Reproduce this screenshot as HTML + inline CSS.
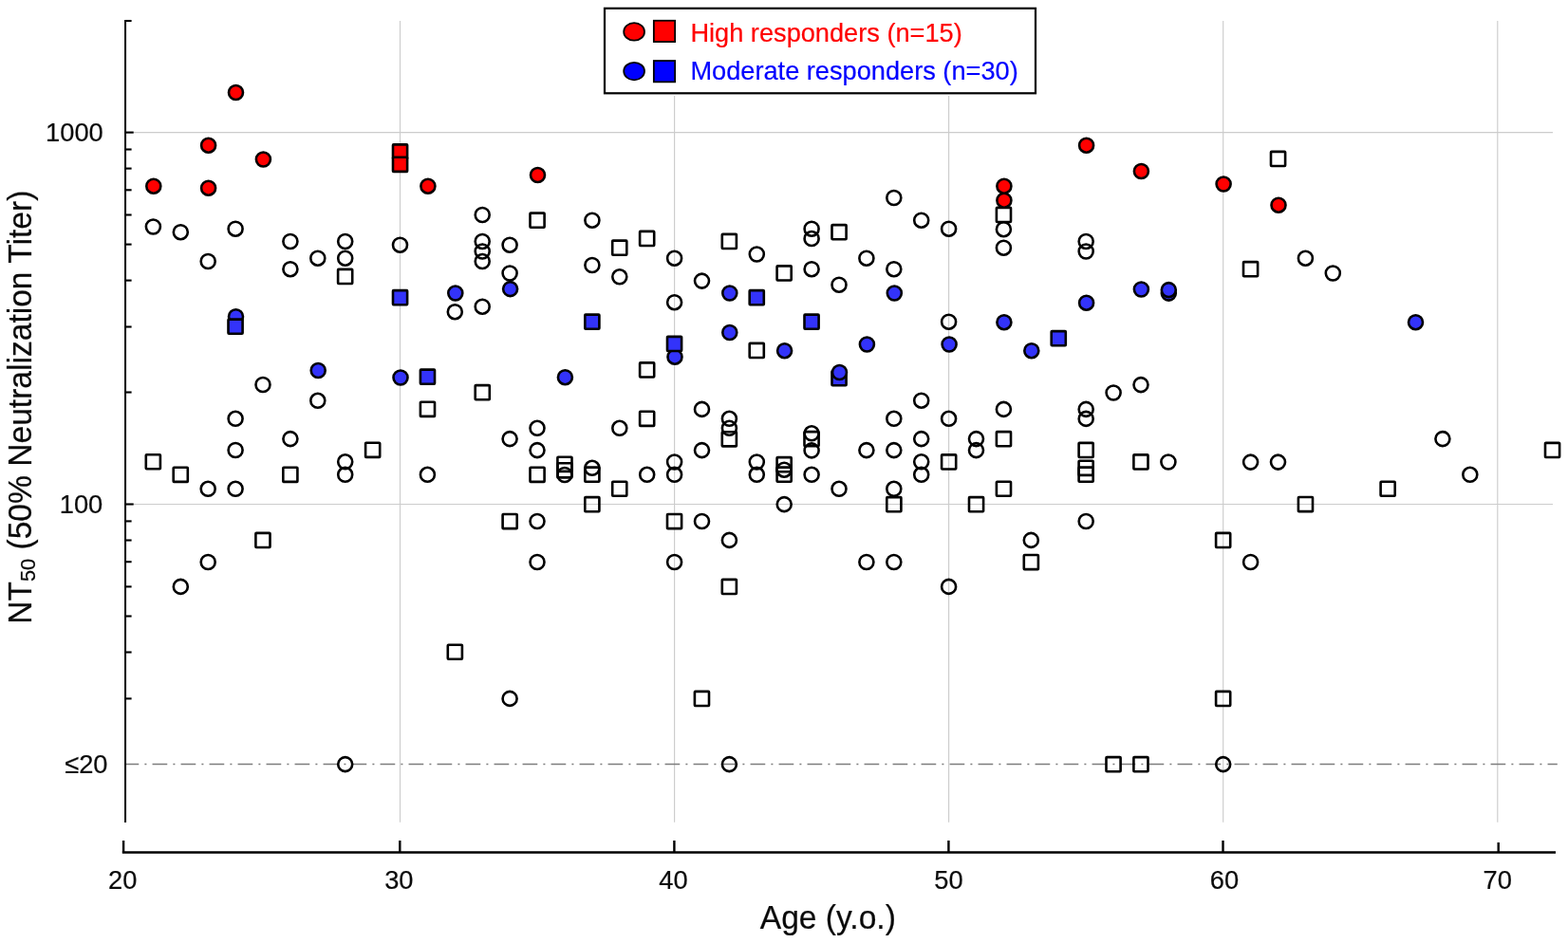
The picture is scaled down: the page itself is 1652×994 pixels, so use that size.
<!DOCTYPE html>
<html><head><meta charset="utf-8"><title>NT50 vs Age</title>
<style>
html,body{margin:0;padding:0;background:#fff;}
body{width:1652px;height:994px;overflow:hidden;}
svg{display:block;}
text{font-family:"Liberation Sans",sans-serif;fill:#0a0a0a;stroke:#0a0a0a;stroke-width:0.2px;}
.tl{font-size:27.3px;}
.ax{font-size:33.6px;}
.lg{font-size:27.2px;}
.g{stroke:#cccccc;stroke-width:1.15;fill:none;}
.o{fill:none;stroke:#000;stroke-width:2.6;stroke-linejoin:round;}
.r{fill:#ff0000;stroke:#000;stroke-width:2.6;stroke-linejoin:round;}
.b{fill:#3333fa;stroke:#000;stroke-width:2.6;stroke-linejoin:round;}
</style></head><body>
<svg width="1652" height="994" viewBox="0 0 1652 994">
<rect width="1652" height="994" fill="#fff"/>

<line class="g" x1="421.5" y1="22.0" x2="421.5" y2="866.8"/>
<line class="g" x1="710.6" y1="101" x2="710.6" y2="866.8"/>
<line class="g" x1="999.6" y1="101" x2="999.6" y2="866.8"/>
<line class="g" x1="1288.7" y1="22.0" x2="1288.7" y2="866.8"/>
<line class="g" x1="1577.8" y1="22.0" x2="1577.8" y2="866.8"/>
<line class="g" x1="132" y1="139.6" x2="1636" y2="139.6"/>
<line class="g" x1="132" y1="531.5" x2="1636" y2="531.5"/>
<line x1="132" y1="805.55" x2="1640.8" y2="805.55" stroke="#7d7d7d" stroke-width="1.5" stroke-dasharray="15.7 6.15 2 6.15" stroke-dashoffset="1.45" fill="none"/>
<line x1="132.05" y1="21.0" x2="132.05" y2="866.9" stroke="#000" stroke-width="2.0"/>
<line x1="132.1" y1="22.0" x2="138.60000000000002" y2="22.0" stroke="#000" stroke-width="2.1"/>
<line x1="132.1" y1="139.6" x2="140.70000000000002" y2="139.6" stroke="#000" stroke-width="2.1"/>
<line x1="132.1" y1="531.5" x2="140.70000000000002" y2="531.5" stroke="#000" stroke-width="2.1"/>
<line x1="132.1" y1="157.5" x2="138.60000000000002" y2="157.5" stroke="#000" stroke-width="2.1"/>
<line x1="132.1" y1="177.6" x2="138.60000000000002" y2="177.6" stroke="#000" stroke-width="2.1"/>
<line x1="132.1" y1="200.3" x2="138.60000000000002" y2="200.3" stroke="#000" stroke-width="2.1"/>
<line x1="132.1" y1="226.5" x2="138.60000000000002" y2="226.5" stroke="#000" stroke-width="2.1"/>
<line x1="132.1" y1="257.6" x2="138.60000000000002" y2="257.6" stroke="#000" stroke-width="2.1"/>
<line x1="132.1" y1="295.6" x2="138.60000000000002" y2="295.6" stroke="#000" stroke-width="2.1"/>
<line x1="132.1" y1="344.5" x2="138.60000000000002" y2="344.5" stroke="#000" stroke-width="2.1"/>
<line x1="132.1" y1="413.5" x2="138.60000000000002" y2="413.5" stroke="#000" stroke-width="2.1"/>
<line x1="132.1" y1="549.4" x2="138.60000000000002" y2="549.4" stroke="#000" stroke-width="2.1"/>
<line x1="132.1" y1="569.5" x2="138.60000000000002" y2="569.5" stroke="#000" stroke-width="2.1"/>
<line x1="132.1" y1="592.2" x2="138.60000000000002" y2="592.2" stroke="#000" stroke-width="2.1"/>
<line x1="132.1" y1="618.4" x2="138.60000000000002" y2="618.4" stroke="#000" stroke-width="2.1"/>
<line x1="132.1" y1="649.5" x2="138.60000000000002" y2="649.5" stroke="#000" stroke-width="2.1"/>
<line x1="132.1" y1="687.5" x2="138.60000000000002" y2="687.5" stroke="#000" stroke-width="2.1"/>
<line x1="132.1" y1="736.4" x2="138.60000000000002" y2="736.4" stroke="#000" stroke-width="2.1"/>
<line x1="128.8" y1="898.55" x2="1639" y2="898.55" stroke="#000" stroke-width="2.6"/>
<line x1="130.1" y1="886" x2="130.1" y2="898.5" stroke="#000" stroke-width="2.4"/>
<text class="tl" transform="translate(144.4,936.9) scale(1,1.04)" text-anchor="end">20</text>
<line x1="421.3" y1="886" x2="421.3" y2="898.5" stroke="#000" stroke-width="2.4"/>
<text class="tl" transform="translate(435.5,936.9) scale(1,1.04)" text-anchor="end">30</text>
<line x1="710.4" y1="886" x2="710.4" y2="898.5" stroke="#000" stroke-width="2.4"/>
<text class="tl" transform="translate(724.7,936.9) scale(1,1.04)" text-anchor="end">40</text>
<line x1="999.4" y1="886" x2="999.4" y2="898.5" stroke="#000" stroke-width="2.4"/>
<text class="tl" transform="translate(1014.6,936.9) scale(1,1.04)" text-anchor="end">50</text>
<line x1="1288.5" y1="886" x2="1288.5" y2="898.5" stroke="#000" stroke-width="2.4"/>
<text class="tl" transform="translate(1305.2,936.9) scale(1,1.04)" text-anchor="end">60</text>
<line x1="1578.7" y1="888" x2="1578.7" y2="898.5" stroke="#000" stroke-width="2.4"/>
<text class="tl" transform="translate(1592.9,936.9) scale(1,1.04)" text-anchor="end">70</text>
<text class="tl" transform="translate(108.8,148.7) scale(1,1.04)" text-anchor="end">1000</text>
<text class="tl" transform="translate(108.3,540.6) scale(1,1.04)" text-anchor="end">100</text>
<text class="tl" transform="translate(113.5,815.3) scale(1,1.04)" text-anchor="end">≤20</text>
<text class="ax" transform="translate(872.3,978.5) scale(1,1.045)" text-anchor="middle">Age (y.o.)</text>
<text class="ax" transform="translate(32.9,657.8) rotate(-90) scale(1,1.04)" x="0" y="0">NT<tspan font-size="21.7" dy="4.3">50</tspan><tspan dy="-4.3"> (50% Neutralization Titer)</tspan></text>
<circle class="o" cx="161.4" cy="239.0" r="7.5"/>
<rect class="o" x="153.8" y="479.2" width="15.1" height="15.1" rx="0.7"/>
<circle class="o" cx="190.3" cy="244.7" r="7.5"/>
<rect class="o" x="182.7" y="492.8" width="15.1" height="15.1" rx="0.7"/>
<circle class="o" cx="190.3" cy="618.4" r="7.5"/>
<circle class="o" cx="219.2" cy="275.5" r="7.5"/>
<circle class="o" cx="219.2" cy="515.3" r="7.5"/>
<circle class="o" cx="219.2" cy="592.5" r="7.5"/>
<circle class="o" cx="248.1" cy="241.2" r="7.5"/>
<circle class="o" cx="248.1" cy="441.3" r="7.5"/>
<circle class="o" cx="248.1" cy="474.5" r="7.5"/>
<circle class="o" cx="248.1" cy="515.3" r="7.5"/>
<circle class="o" cx="277.0" cy="405.5" r="7.5"/>
<rect class="o" x="269.4" y="561.9" width="15.1" height="15.1" rx="0.7"/>
<circle class="o" cx="305.9" cy="254.5" r="7.5"/>
<circle class="o" cx="305.9" cy="283.7" r="7.5"/>
<circle class="o" cx="305.9" cy="462.6" r="7.5"/>
<rect class="o" x="298.3" y="492.8" width="15.1" height="15.1" rx="0.7"/>
<circle class="o" cx="334.8" cy="272.2" r="7.5"/>
<circle class="o" cx="334.8" cy="422.3" r="7.5"/>
<circle class="o" cx="363.7" cy="254.5" r="7.5"/>
<circle class="o" cx="363.7" cy="272.2" r="7.5"/>
<rect class="o" x="356.1" y="283.9" width="15.1" height="15.1" rx="0.7"/>
<circle class="o" cx="363.7" cy="486.8" r="7.5"/>
<circle class="o" cx="363.7" cy="500.3" r="7.5"/>
<circle class="o" cx="363.7" cy="805.6" r="7.5"/>
<rect class="o" x="385.1" y="466.8" width="15.1" height="15.1" rx="0.7"/>
<circle class="o" cx="421.5" cy="258.2" r="7.5"/>
<rect class="o" x="442.9" y="423.8" width="15.1" height="15.1" rx="0.7"/>
<circle class="o" cx="450.4" cy="500.3" r="7.5"/>
<circle class="o" cx="479.3" cy="328.7" r="7.5"/>
<rect class="o" x="471.8" y="679.7" width="15.1" height="15.1" rx="0.7"/>
<circle class="o" cx="508.2" cy="226.5" r="7.5"/>
<circle class="o" cx="508.2" cy="254.5" r="7.5"/>
<circle class="o" cx="508.2" cy="265.0" r="7.5"/>
<circle class="o" cx="508.2" cy="275.5" r="7.5"/>
<circle class="o" cx="508.2" cy="323.2" r="7.5"/>
<rect class="o" x="500.7" y="406.1" width="15.1" height="15.1" rx="0.7"/>
<circle class="o" cx="537.1" cy="258.2" r="7.5"/>
<circle class="o" cx="537.1" cy="288.0" r="7.5"/>
<circle class="o" cx="537.1" cy="462.6" r="7.5"/>
<rect class="o" x="529.6" y="542.0" width="15.1" height="15.1" rx="0.7"/>
<circle class="o" cx="537.1" cy="736.4" r="7.5"/>
<rect class="o" x="558.5" y="224.6" width="15.1" height="15.1" rx="0.7"/>
<circle class="o" cx="566.0" cy="451.3" r="7.5"/>
<circle class="o" cx="566.0" cy="474.6" r="7.5"/>
<rect class="o" x="558.5" y="492.8" width="15.1" height="15.1" rx="0.7"/>
<circle class="o" cx="566.0" cy="549.5" r="7.5"/>
<circle class="o" cx="566.0" cy="592.5" r="7.5"/>
<rect class="o" x="587.4" y="481.8" width="15.1" height="15.1" rx="0.7"/>
<rect class="o" x="587.4" y="488.3" width="15.1" height="15.1" rx="0.7"/>
<circle class="o" cx="594.9" cy="500.5" r="7.5"/>
<circle class="o" cx="623.9" cy="232.2" r="7.5"/>
<circle class="o" cx="623.9" cy="279.5" r="7.5"/>
<circle class="o" cx="623.9" cy="493.3" r="7.5"/>
<rect class="o" x="616.3" y="492.6" width="15.1" height="15.1" rx="0.7"/>
<rect class="o" x="616.3" y="524.1" width="15.1" height="15.1" rx="0.7"/>
<rect class="o" x="645.2" y="253.6" width="15.1" height="15.1" rx="0.7"/>
<circle class="o" cx="652.8" cy="291.8" r="7.5"/>
<circle class="o" cx="652.8" cy="451.3" r="7.5"/>
<rect class="o" x="645.2" y="507.7" width="15.1" height="15.1" rx="0.7"/>
<rect class="o" x="674.1" y="243.9" width="15.1" height="15.1" rx="0.7"/>
<rect class="o" x="674.1" y="382.4" width="15.1" height="15.1" rx="0.7"/>
<rect class="o" x="674.1" y="433.8" width="15.1" height="15.1" rx="0.7"/>
<circle class="o" cx="681.7" cy="500.3" r="7.5"/>
<circle class="o" cx="710.6" cy="272.2" r="7.5"/>
<circle class="o" cx="710.6" cy="318.7" r="7.5"/>
<circle class="o" cx="710.6" cy="487.0" r="7.5"/>
<circle class="o" cx="710.6" cy="500.3" r="7.5"/>
<rect class="o" x="703.0" y="542.0" width="15.1" height="15.1" rx="0.7"/>
<circle class="o" cx="710.6" cy="592.5" r="7.5"/>
<circle class="o" cx="739.5" cy="296.1" r="7.5"/>
<circle class="o" cx="739.5" cy="431.4" r="7.5"/>
<circle class="o" cx="739.5" cy="474.6" r="7.5"/>
<circle class="o" cx="739.5" cy="549.5" r="7.5"/>
<rect class="o" x="731.9" y="728.9" width="15.1" height="15.1" rx="0.7"/>
<rect class="o" x="760.8" y="246.9" width="15.1" height="15.1" rx="0.7"/>
<circle class="o" cx="768.4" cy="441.3" r="7.5"/>
<circle class="o" cx="768.4" cy="451.3" r="7.5"/>
<rect class="o" x="760.8" y="455.3" width="15.1" height="15.1" rx="0.7"/>
<circle class="o" cx="768.4" cy="569.4" r="7.5"/>
<rect class="o" x="760.8" y="610.9" width="15.1" height="15.1" rx="0.7"/>
<circle class="o" cx="768.4" cy="805.6" r="7.5"/>
<circle class="o" cx="797.3" cy="268.0" r="7.5"/>
<rect class="o" x="789.7" y="361.9" width="15.1" height="15.1" rx="0.7"/>
<circle class="o" cx="797.3" cy="487.0" r="7.5"/>
<circle class="o" cx="797.3" cy="500.3" r="7.5"/>
<rect class="o" x="818.6" y="280.4" width="15.1" height="15.1" rx="0.7"/>
<rect class="o" x="818.6" y="482.1" width="15.1" height="15.1" rx="0.7"/>
<circle class="o" cx="826.2" cy="495.2" r="7.5"/>
<rect class="o" x="818.6" y="492.6" width="15.1" height="15.1" rx="0.7"/>
<circle class="o" cx="826.2" cy="531.6" r="7.5"/>
<circle class="o" cx="855.1" cy="241.2" r="7.5"/>
<circle class="o" cx="855.1" cy="251.5" r="7.5"/>
<circle class="o" cx="855.1" cy="283.7" r="7.5"/>
<circle class="o" cx="855.1" cy="456.8" r="7.5"/>
<rect class="o" x="847.5" y="455.1" width="15.1" height="15.1" rx="0.7"/>
<circle class="o" cx="855.1" cy="474.9" r="7.5"/>
<circle class="o" cx="855.1" cy="500.3" r="7.5"/>
<rect class="o" x="876.5" y="237.1" width="15.1" height="15.1" rx="0.7"/>
<circle class="o" cx="884.0" cy="300.2" r="7.5"/>
<circle class="o" cx="884.0" cy="515.3" r="7.5"/>
<circle class="o" cx="912.9" cy="272.2" r="7.5"/>
<circle class="o" cx="912.9" cy="474.6" r="7.5"/>
<circle class="o" cx="912.9" cy="592.5" r="7.5"/>
<circle class="o" cx="941.8" cy="208.5" r="7.5"/>
<circle class="o" cx="941.8" cy="283.7" r="7.5"/>
<circle class="o" cx="941.8" cy="441.3" r="7.5"/>
<circle class="o" cx="941.8" cy="474.6" r="7.5"/>
<circle class="o" cx="941.8" cy="515.3" r="7.5"/>
<rect class="o" x="934.3" y="524.1" width="15.1" height="15.1" rx="0.7"/>
<circle class="o" cx="941.8" cy="592.5" r="7.5"/>
<circle class="o" cx="970.7" cy="232.2" r="7.5"/>
<circle class="o" cx="970.7" cy="422.2" r="7.5"/>
<circle class="o" cx="970.7" cy="462.6" r="7.5"/>
<circle class="o" cx="970.7" cy="486.8" r="7.5"/>
<circle class="o" cx="970.7" cy="500.3" r="7.5"/>
<circle class="o" cx="999.6" cy="241.2" r="7.5"/>
<circle class="o" cx="999.6" cy="339.2" r="7.5"/>
<circle class="o" cx="999.6" cy="441.3" r="7.5"/>
<rect class="o" x="992.1" y="479.4" width="15.1" height="15.1" rx="0.7"/>
<circle class="o" cx="999.6" cy="618.4" r="7.5"/>
<circle class="o" cx="1028.5" cy="462.6" r="7.5"/>
<circle class="o" cx="1028.5" cy="474.6" r="7.5"/>
<rect class="o" x="1021.0" y="524.1" width="15.1" height="15.1" rx="0.7"/>
<rect class="o" x="1049.9" y="218.9" width="15.1" height="15.1" rx="0.7"/>
<circle class="o" cx="1057.4" cy="241.7" r="7.5"/>
<circle class="o" cx="1057.4" cy="261.2" r="7.5"/>
<circle class="o" cx="1057.4" cy="431.4" r="7.5"/>
<rect class="o" x="1049.9" y="455.1" width="15.1" height="15.1" rx="0.7"/>
<rect class="o" x="1049.9" y="507.7" width="15.1" height="15.1" rx="0.7"/>
<circle class="o" cx="1086.3" cy="569.4" r="7.5"/>
<rect class="o" x="1078.8" y="585.0" width="15.1" height="15.1" rx="0.7"/>
<circle class="o" cx="1144.2" cy="254.5" r="7.5"/>
<circle class="o" cx="1144.2" cy="265.0" r="7.5"/>
<circle class="o" cx="1144.2" cy="431.4" r="7.5"/>
<circle class="o" cx="1144.2" cy="441.4" r="7.5"/>
<rect class="o" x="1136.6" y="466.9" width="15.1" height="15.1" rx="0.7"/>
<rect class="o" x="1136.6" y="485.8" width="15.1" height="15.1" rx="0.7"/>
<rect class="o" x="1136.6" y="492.6" width="15.1" height="15.1" rx="0.7"/>
<circle class="o" cx="1144.2" cy="549.5" r="7.5"/>
<circle class="o" cx="1173.1" cy="414.0" r="7.5"/>
<rect class="o" x="1165.5" y="798.1" width="15.1" height="15.1" rx="0.7"/>
<circle class="o" cx="1202.0" cy="405.6" r="7.5"/>
<rect class="o" x="1194.4" y="479.4" width="15.1" height="15.1" rx="0.7"/>
<rect class="o" x="1194.4" y="798.1" width="15.1" height="15.1" rx="0.7"/>
<circle class="o" cx="1230.9" cy="487.0" r="7.5"/>
<rect class="o" x="1281.1" y="561.9" width="15.1" height="15.1" rx="0.7"/>
<rect class="o" x="1281.1" y="728.9" width="15.1" height="15.1" rx="0.7"/>
<circle class="o" cx="1288.7" cy="805.6" r="7.5"/>
<rect class="o" x="1310.0" y="276.1" width="15.1" height="15.1" rx="0.7"/>
<circle class="o" cx="1317.6" cy="487.1" r="7.5"/>
<circle class="o" cx="1317.6" cy="592.5" r="7.5"/>
<rect class="o" x="1339.0" y="159.9" width="15.1" height="15.1" rx="0.7"/>
<circle class="o" cx="1346.5" cy="487.1" r="7.5"/>
<circle class="o" cx="1375.4" cy="272.2" r="7.5"/>
<rect class="o" x="1367.9" y="524.0" width="15.1" height="15.1" rx="0.7"/>
<circle class="o" cx="1404.3" cy="288.0" r="7.5"/>
<rect class="o" x="1454.6" y="507.7" width="15.1" height="15.1" rx="0.7"/>
<circle class="o" cx="1519.9" cy="462.6" r="7.5"/>
<circle class="o" cx="1548.8" cy="500.3" r="7.5"/>
<rect class="o" x="1628.0" y="466.9" width="15.1" height="15.1" rx="0.7"/>
<circle class="r" cx="161.8" cy="196.2" r="7.5"/>
<circle class="r" cx="219.6" cy="153.2" r="7.5"/>
<circle class="r" cx="219.6" cy="198.2" r="7.5"/>
<circle class="r" cx="248.5" cy="97.5" r="7.5"/>
<circle class="b" cx="248.5" cy="333.7" r="7.5"/>
<rect class="b" x="240.5" y="336.6" width="15.1" height="15.1" rx="0.7"/>
<circle class="r" cx="277.4" cy="168.0" r="7.5"/>
<circle class="b" cx="335.2" cy="390.5" r="7.5"/>
<rect class="r" x="414.0" y="152.4" width="15.1" height="15.1" rx="0.7"/>
<rect class="r" x="414.0" y="165.8" width="15.1" height="15.1" rx="0.7"/>
<rect class="b" x="414.0" y="306.1" width="15.1" height="15.1" rx="0.7"/>
<circle class="b" cx="422.0" cy="398.0" r="7.5"/>
<circle class="r" cx="450.9" cy="196.2" r="7.5"/>
<rect class="b" x="442.9" y="389.6" width="15.1" height="15.1" rx="0.7"/>
<circle class="b" cx="479.8" cy="309.0" r="7.5"/>
<circle class="b" cx="537.6" cy="304.6" r="7.5"/>
<circle class="r" cx="566.5" cy="184.5" r="7.5"/>
<circle class="b" cx="595.4" cy="397.7" r="7.5"/>
<rect class="b" x="616.3" y="331.6" width="15.1" height="15.1" rx="0.7"/>
<circle class="b" cx="711.0" cy="376.2" r="7.5"/>
<rect class="b" x="703.0" y="354.9" width="15.1" height="15.1" rx="0.7"/>
<circle class="b" cx="768.8" cy="309.0" r="7.5"/>
<circle class="b" cx="768.8" cy="350.5" r="7.5"/>
<rect class="b" x="789.7" y="306.1" width="15.1" height="15.1" rx="0.7"/>
<circle class="b" cx="826.6" cy="369.7" r="7.5"/>
<rect class="b" x="847.5" y="331.6" width="15.1" height="15.1" rx="0.7"/>
<rect class="b" x="876.5" y="391.1" width="15.1" height="15.1" rx="0.7"/>
<circle class="b" cx="884.5" cy="392.5" r="7.5"/>
<circle class="b" cx="913.4" cy="363.0" r="7.5"/>
<circle class="b" cx="942.3" cy="309.0" r="7.5"/>
<circle class="b" cx="1000.1" cy="363.0" r="7.5"/>
<circle class="r" cx="1057.9" cy="211.2" r="7.5"/>
<circle class="r" cx="1057.9" cy="196.2" r="7.5"/>
<circle class="b" cx="1057.9" cy="339.7" r="7.5"/>
<circle class="b" cx="1086.8" cy="369.7" r="7.5"/>
<rect class="b" x="1107.7" y="349.1" width="15.1" height="15.1" rx="0.7"/>
<circle class="r" cx="1144.6" cy="153.2" r="7.5"/>
<circle class="b" cx="1144.6" cy="319.2" r="7.5"/>
<circle class="r" cx="1202.4" cy="180.5" r="7.5"/>
<circle class="b" cx="1202.4" cy="305.0" r="7.5"/>
<circle class="b" cx="1231.3" cy="309.1" r="7.5"/>
<circle class="b" cx="1231.3" cy="305.6" r="7.5"/>
<circle class="r" cx="1289.1" cy="194.0" r="7.5"/>
<circle class="r" cx="1347.0" cy="216.2" r="7.5"/>
<circle class="b" cx="1491.5" cy="339.7" r="7.5"/>
<rect x="637" y="8.8" width="454" height="89.5" fill="#fff" stroke="#000" stroke-width="2.2"/>
<ellipse cx="668.1" cy="33.4" rx="10.9" ry="9.3" fill="#ff0000" stroke="#000" stroke-width="1.8"/>
<rect x="688.85" y="21.75" width="22.3" height="22.3" fill="#ff0000" stroke="#000" stroke-width="1.8"/>
<ellipse cx="668.1" cy="75.1" rx="10.9" ry="9.3" fill="#0000ff" stroke="#000" stroke-width="1.8"/>
<rect x="688.85" y="64.05" width="22.3" height="22.3" fill="#0000ff" stroke="#000" stroke-width="1.8"/>
<text class="lg" x="727.4" y="44.3" style="fill:#ff0000;stroke:#ff0000">High responders (n=15)</text>
<text class="lg" x="727.4" y="84" style="fill:#0000ff;stroke:#0000ff">Moderate responders (n=30)</text>
</svg></body></html>
